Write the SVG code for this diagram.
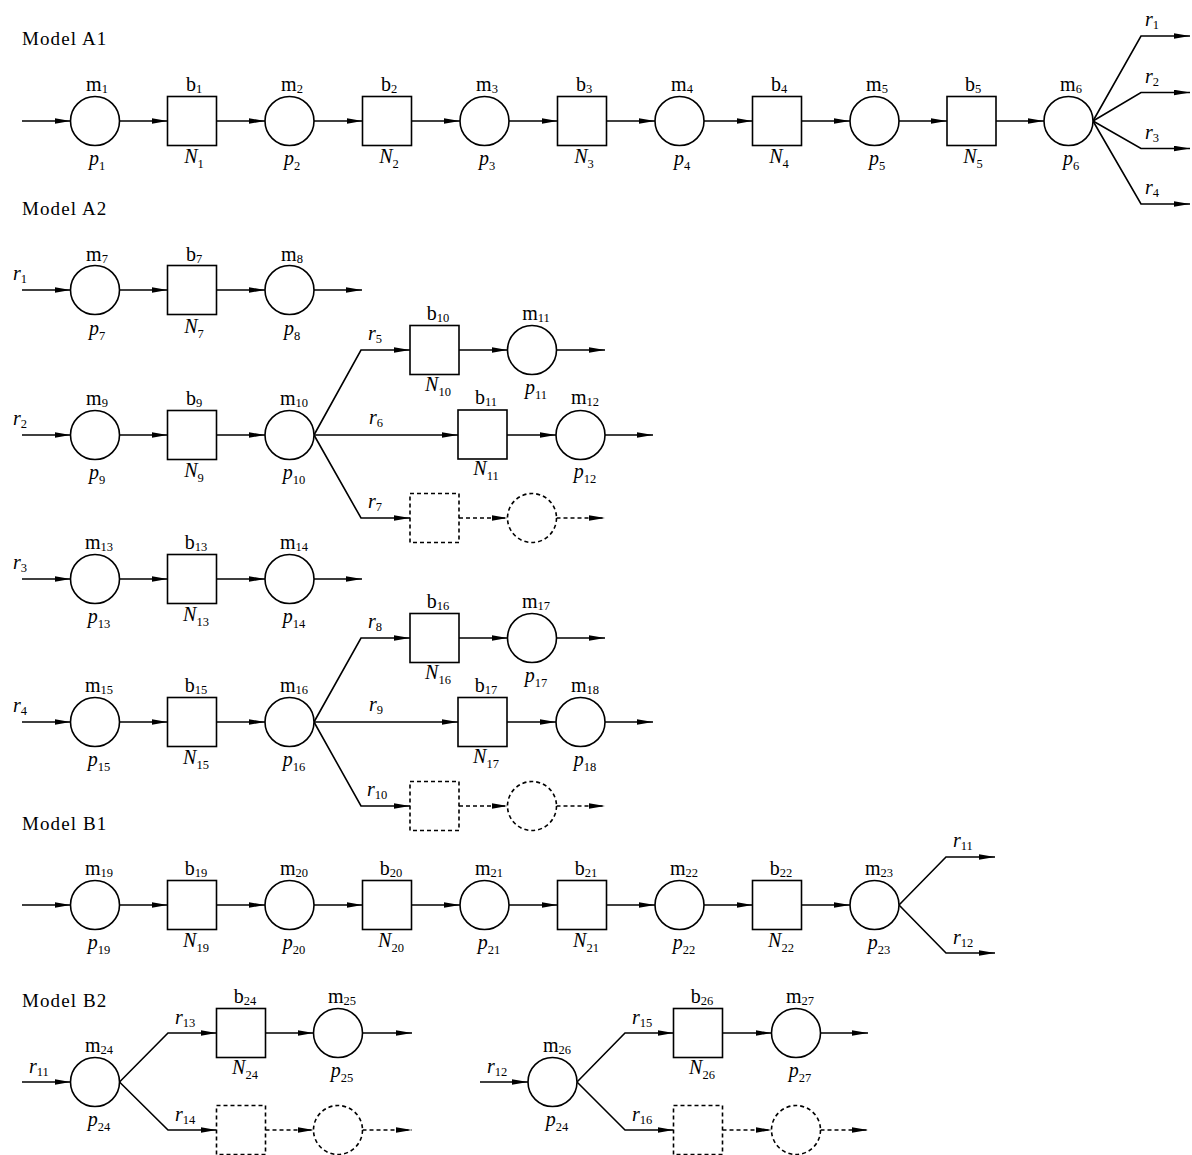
<svg xmlns="http://www.w3.org/2000/svg" width="1192" height="1155" viewBox="0 0 1192 1155">
<style>
.n{fill:#fff;stroke:#000;stroke-width:1.6}
.d{stroke-dasharray:4 3}
.c{fill:none;stroke:#000;stroke-width:1.6}
.t{font-family:"Liberation Serif","Times New Roman",serif;font-size:20px;fill:#000}
.m{text-anchor:middle}
.i{font-style:italic}
.s{font-size:12.5px;font-style:normal}
.h{font-family:"Liberation Serif","Times New Roman",serif;font-size:19px;letter-spacing:1.1px;fill:#000}
</style>
<defs>
<marker id="a" markerUnits="userSpaceOnUse" markerWidth="17" markerHeight="6" refX="16" refY="3" orient="auto">
<path d="M0,0.2 L16,3 L0,5.8 Z" fill="#000" stroke="none"/>
</marker>
</defs>
<rect width="1192" height="1155" fill="#fff"/>

<g id="titles">
<text class="h" x="22" y="45">Model A1</text>
<text class="h" x="22" y="215">Model A2</text>
<text class="h" x="22" y="830">Model B1</text>
<text class="h" x="22" y="1007">Model B2</text>
</g>

<g id="connectors">
<!-- A1 -->
<line class="c" x1="22" y1="121" x2="70.5" y2="121" marker-end="url(#a)"/>
<line class="c" x1="119.5" y1="121" x2="167.5" y2="121" marker-end="url(#a)"/>
<line class="c" x1="216.5" y1="121" x2="265" y2="121" marker-end="url(#a)"/>
<line class="c" x1="314" y1="121" x2="362.5" y2="121" marker-end="url(#a)"/>
<line class="c" x1="411.5" y1="121" x2="460" y2="121" marker-end="url(#a)"/>
<line class="c" x1="509" y1="121" x2="557.5" y2="121" marker-end="url(#a)"/>
<line class="c" x1="606.5" y1="121" x2="655" y2="121" marker-end="url(#a)"/>
<line class="c" x1="704" y1="121" x2="752.5" y2="121" marker-end="url(#a)"/>
<line class="c" x1="801.5" y1="121" x2="850" y2="121" marker-end="url(#a)"/>
<line class="c" x1="899" y1="121" x2="947" y2="121" marker-end="url(#a)"/>
<line class="c" x1="996" y1="121" x2="1044" y2="121" marker-end="url(#a)"/>
<polyline class="c" points="1093,121 1141,36 1190,36" marker-end="url(#a)"/>
<polyline class="c" points="1093,121 1141,92.5 1190,92.5" marker-end="url(#a)"/>
<polyline class="c" points="1093,121 1141,148.5 1190,148.5" marker-end="url(#a)"/>
<polyline class="c" points="1093,121 1141,204 1190,204" marker-end="url(#a)"/>
<!-- A2 row 1 -->
<line class="c" x1="22" y1="290" x2="70.5" y2="290" marker-end="url(#a)"/>
<line class="c" x1="119.5" y1="290" x2="167.5" y2="290" marker-end="url(#a)"/>
<line class="c" x1="216.5" y1="290" x2="265" y2="290" marker-end="url(#a)"/>
<line class="c" x1="314" y1="290" x2="362" y2="290" marker-end="url(#a)"/>
<!-- A2 row 2 -->
<line class="c" x1="22" y1="435" x2="70.5" y2="435" marker-end="url(#a)"/>
<line class="c" x1="119.5" y1="435" x2="167.5" y2="435" marker-end="url(#a)"/>
<line class="c" x1="216.5" y1="435" x2="265" y2="435" marker-end="url(#a)"/>
<polyline class="c" points="314,435 361,350 410,350" marker-end="url(#a)"/>
<line class="c" x1="459" y1="350" x2="507.5" y2="350" marker-end="url(#a)"/>
<line class="c" x1="556.5" y1="350" x2="605" y2="350" marker-end="url(#a)"/>
<line class="c" x1="314" y1="435" x2="458" y2="435" marker-end="url(#a)"/>
<line class="c" x1="507" y1="435" x2="556" y2="435" marker-end="url(#a)"/>
<line class="c" x1="605" y1="435" x2="653" y2="435" marker-end="url(#a)"/>
<polyline class="c" points="314,435 361,518 410,518" marker-end="url(#a)"/>
<line class="c d" x1="459" y1="518" x2="507.5" y2="518" marker-end="url(#a)"/>
<line class="c d" x1="556.5" y1="518" x2="605" y2="518" marker-end="url(#a)"/>
<!-- A2 row 3 -->
<line class="c" x1="22" y1="579" x2="70.5" y2="579" marker-end="url(#a)"/>
<line class="c" x1="119.5" y1="579" x2="167.5" y2="579" marker-end="url(#a)"/>
<line class="c" x1="216.5" y1="579" x2="265" y2="579" marker-end="url(#a)"/>
<line class="c" x1="314" y1="579" x2="362" y2="579" marker-end="url(#a)"/>
<!-- A2 row 4 -->
<line class="c" x1="22" y1="722" x2="70.5" y2="722" marker-end="url(#a)"/>
<line class="c" x1="119.5" y1="722" x2="167.5" y2="722" marker-end="url(#a)"/>
<line class="c" x1="216.5" y1="722" x2="265" y2="722" marker-end="url(#a)"/>
<polyline class="c" points="314,722 361,638 410,638" marker-end="url(#a)"/>
<line class="c" x1="459" y1="638" x2="507.5" y2="638" marker-end="url(#a)"/>
<line class="c" x1="556.5" y1="638" x2="605" y2="638" marker-end="url(#a)"/>
<line class="c" x1="314" y1="722" x2="458" y2="722" marker-end="url(#a)"/>
<line class="c" x1="507" y1="722" x2="556" y2="722" marker-end="url(#a)"/>
<line class="c" x1="605" y1="722" x2="653" y2="722" marker-end="url(#a)"/>
<polyline class="c" points="314,722 361,806 410,806" marker-end="url(#a)"/>
<line class="c d" x1="459" y1="806" x2="507.5" y2="806" marker-end="url(#a)"/>
<line class="c d" x1="556.5" y1="806" x2="605" y2="806" marker-end="url(#a)"/>
<!-- B1 -->
<line class="c" x1="22" y1="905" x2="70.5" y2="905" marker-end="url(#a)"/>
<line class="c" x1="119.5" y1="905" x2="167.5" y2="905" marker-end="url(#a)"/>
<line class="c" x1="216.5" y1="905" x2="265" y2="905" marker-end="url(#a)"/>
<line class="c" x1="314" y1="905" x2="362.5" y2="905" marker-end="url(#a)"/>
<line class="c" x1="411.5" y1="905" x2="460" y2="905" marker-end="url(#a)"/>
<line class="c" x1="509" y1="905" x2="557.5" y2="905" marker-end="url(#a)"/>
<line class="c" x1="606.5" y1="905" x2="655" y2="905" marker-end="url(#a)"/>
<line class="c" x1="704" y1="905" x2="752.5" y2="905" marker-end="url(#a)"/>
<line class="c" x1="801.5" y1="905" x2="850" y2="905" marker-end="url(#a)"/>
<polyline class="c" points="899,905 946,857 995,857" marker-end="url(#a)"/>
<polyline class="c" points="899,905 946,953 995,953" marker-end="url(#a)"/>
<!-- B2 left -->
<line class="c" x1="22" y1="1082" x2="70.5" y2="1082" marker-end="url(#a)"/>
<polyline class="c" points="119.5,1082 168,1033 216.5,1033" marker-end="url(#a)"/>
<line class="c" x1="265.5" y1="1033" x2="313.5" y2="1033" marker-end="url(#a)"/>
<line class="c" x1="362.5" y1="1033" x2="412" y2="1033" marker-end="url(#a)"/>
<polyline class="c" points="119.5,1082 168,1130 216.5,1130" marker-end="url(#a)"/>
<line class="c d" x1="265.5" y1="1130" x2="313.5" y2="1130" marker-end="url(#a)"/>
<line class="c d" x1="362.5" y1="1130" x2="412" y2="1130" marker-end="url(#a)"/>
<!-- B2 right -->
<line class="c" x1="480" y1="1082" x2="528" y2="1082" marker-end="url(#a)"/>
<polyline class="c" points="577,1082 625,1033 673.5,1033" marker-end="url(#a)"/>
<line class="c" x1="722.5" y1="1033" x2="771.5" y2="1033" marker-end="url(#a)"/>
<line class="c" x1="820.5" y1="1033" x2="868" y2="1033" marker-end="url(#a)"/>
<polyline class="c" points="577,1082 625,1130 673.5,1130" marker-end="url(#a)"/>
<line class="c d" x1="722.5" y1="1130" x2="771.5" y2="1130" marker-end="url(#a)"/>
<line class="c d" x1="820.5" y1="1130" x2="868" y2="1130" marker-end="url(#a)"/>
</g>

<g id="connector-labels">
<text class="t i" x="1145" y="26">r<tspan class="s" dy="3">1</tspan></text>
<text class="t i" x="1145" y="82.5">r<tspan class="s" dy="3">2</tspan></text>
<text class="t i" x="1145" y="138.5">r<tspan class="s" dy="3">3</tspan></text>
<text class="t i" x="1145" y="194">r<tspan class="s" dy="3">4</tspan></text>
<text class="t i" x="13" y="280">r<tspan class="s" dy="3">1</tspan></text>
<text class="t i" x="13" y="425">r<tspan class="s" dy="3">2</tspan></text>
<text class="t i" x="13" y="569">r<tspan class="s" dy="3">3</tspan></text>
<text class="t i" x="13" y="712">r<tspan class="s" dy="3">4</tspan></text>
<text class="t i" x="368" y="340">r<tspan class="s" dy="3">5</tspan></text>
<text class="t i" x="369" y="424">r<tspan class="s" dy="3">6</tspan></text>
<text class="t i" x="368" y="508">r<tspan class="s" dy="3">7</tspan></text>
<text class="t i" x="368" y="628">r<tspan class="s" dy="3">8</tspan></text>
<text class="t i" x="369" y="711">r<tspan class="s" dy="3">9</tspan></text>
<text class="t i" x="367" y="796">r<tspan class="s" dy="3">10</tspan></text>
<text class="t i" x="953" y="847">r<tspan class="s" dy="3">11</tspan></text>
<text class="t i" x="953" y="944">r<tspan class="s" dy="3">12</tspan></text>
<text class="t i" x="29" y="1073">r<tspan class="s" dy="3">11</tspan></text>
<text class="t i" x="175" y="1024">r<tspan class="s" dy="3">13</tspan></text>
<text class="t i" x="175" y="1121">r<tspan class="s" dy="3">14</tspan></text>
<text class="t i" x="487" y="1073">r<tspan class="s" dy="3">12</tspan></text>
<text class="t i" x="632" y="1024">r<tspan class="s" dy="3">15</tspan></text>
<text class="t i" x="632" y="1121">r<tspan class="s" dy="3">16</tspan></text>
</g>

<!-- Model A1 nodes -->
<g id="m1"><circle class="n" cx="95" cy="121" r="24.5"/><text class="t m" x="97" y="91">m<tspan class="s" dy="2">1</tspan></text><text class="t m i" x="97" y="165">p<tspan class="s" dy="5">1</tspan></text></g>
<g id="b1"><rect class="n" x="167.5" y="96.5" width="49" height="49"/><text class="t m" x="194" y="91">b<tspan class="s" dy="2">1</tspan></text><text class="t m i" x="194" y="163">N<tspan class="s" dy="5">1</tspan></text></g>
<g id="m2"><circle class="n" cx="289.5" cy="121" r="24.5"/><text class="t m" x="292" y="91">m<tspan class="s" dy="2">2</tspan></text><text class="t m i" x="292" y="165">p<tspan class="s" dy="5">2</tspan></text></g>
<g id="b2"><rect class="n" x="362.5" y="96.5" width="49" height="49"/><text class="t m" x="389" y="91">b<tspan class="s" dy="2">2</tspan></text><text class="t m i" x="389" y="163">N<tspan class="s" dy="5">2</tspan></text></g>
<g id="m3"><circle class="n" cx="484.5" cy="121" r="24.5"/><text class="t m" x="487" y="91">m<tspan class="s" dy="2">3</tspan></text><text class="t m i" x="487" y="165">p<tspan class="s" dy="5">3</tspan></text></g>
<g id="b3"><rect class="n" x="557.5" y="96.5" width="49" height="49"/><text class="t m" x="584" y="91">b<tspan class="s" dy="2">3</tspan></text><text class="t m i" x="584" y="163">N<tspan class="s" dy="5">3</tspan></text></g>
<g id="m4"><circle class="n" cx="679.5" cy="121" r="24.5"/><text class="t m" x="682" y="91">m<tspan class="s" dy="2">4</tspan></text><text class="t m i" x="682" y="165">p<tspan class="s" dy="5">4</tspan></text></g>
<g id="b4"><rect class="n" x="752.5" y="96.5" width="49" height="49"/><text class="t m" x="779" y="91">b<tspan class="s" dy="2">4</tspan></text><text class="t m i" x="779" y="163">N<tspan class="s" dy="5">4</tspan></text></g>
<g id="m5"><circle class="n" cx="874.5" cy="121" r="24.5"/><text class="t m" x="877" y="91">m<tspan class="s" dy="2">5</tspan></text><text class="t m i" x="877" y="165">p<tspan class="s" dy="5">5</tspan></text></g>
<g id="b5"><rect class="n" x="947" y="96.5" width="49" height="49"/><text class="t m" x="973" y="91">b<tspan class="s" dy="2">5</tspan></text><text class="t m i" x="973" y="163">N<tspan class="s" dy="5">5</tspan></text></g>
<g id="m6"><circle class="n" cx="1068.5" cy="121" r="24.5"/><text class="t m" x="1071" y="91">m<tspan class="s" dy="2">6</tspan></text><text class="t m i" x="1071" y="165">p<tspan class="s" dy="5">6</tspan></text></g>

<!-- Model A2 row 1 -->
<g id="m7"><circle class="n" cx="95" cy="290" r="24.5"/><text class="t m" x="97" y="261">m<tspan class="s" dy="2">7</tspan></text><text class="t m i" x="97" y="335">p<tspan class="s" dy="5">7</tspan></text></g>
<g id="b7"><rect class="n" x="167.5" y="265.5" width="49" height="49"/><text class="t m" x="194" y="261">b<tspan class="s" dy="2">7</tspan></text><text class="t m i" x="194" y="333">N<tspan class="s" dy="5">7</tspan></text></g>
<g id="m8"><circle class="n" cx="289.5" cy="290" r="24.5"/><text class="t m" x="292" y="261">m<tspan class="s" dy="2">8</tspan></text><text class="t m i" x="292" y="335">p<tspan class="s" dy="5">8</tspan></text></g>

<!-- Model A2 row 2 -->
<g id="m9"><circle class="n" cx="95" cy="435" r="24.5"/><text class="t m" x="97" y="405">m<tspan class="s" dy="2">9</tspan></text><text class="t m i" x="97" y="479">p<tspan class="s" dy="5">9</tspan></text></g>
<g id="b9"><rect class="n" x="167.5" y="410.5" width="49" height="49"/><text class="t m" x="194" y="405">b<tspan class="s" dy="2">9</tspan></text><text class="t m i" x="194" y="477">N<tspan class="s" dy="5">9</tspan></text></g>
<g id="m10"><circle class="n" cx="289.5" cy="435" r="24.5"/><text class="t m" x="294" y="405">m<tspan class="s" dy="2">10</tspan></text><text class="t m i" x="294" y="479">p<tspan class="s" dy="5">10</tspan></text></g>
<g id="b10"><rect class="n" x="410" y="325.5" width="49" height="49"/><text class="t m" x="438" y="320">b<tspan class="s" dy="2">10</tspan></text><text class="t m i" x="438" y="391">N<tspan class="s" dy="5">10</tspan></text></g>
<g id="m11"><circle class="n" cx="532" cy="350" r="24.5"/><text class="t m" x="536" y="320">m<tspan class="s" dy="2">11</tspan></text><text class="t m i" x="536" y="394">p<tspan class="s" dy="5">11</tspan></text></g>
<g id="b11"><rect class="n" x="458" y="410" width="49" height="49"/><text class="t m" x="486" y="404">b<tspan class="s" dy="2">11</tspan></text><text class="t m i" x="486" y="475">N<tspan class="s" dy="5">11</tspan></text></g>
<g id="m12"><circle class="n" cx="580.5" cy="435" r="24.5"/><text class="t m" x="585" y="404">m<tspan class="s" dy="2">12</tspan></text><text class="t m i" x="585" y="478">p<tspan class="s" dy="5">12</tspan></text></g>
<g id="b-dash1"><rect class="n d" x="410" y="493.5" width="49" height="49"/></g>
<g id="m-dash1"><circle class="n d" cx="532" cy="518" r="24.5"/></g>

<!-- Model A2 row 3 -->
<g id="m13"><circle class="n" cx="95" cy="579" r="24.5"/><text class="t m" x="99" y="549">m<tspan class="s" dy="2">13</tspan></text><text class="t m i" x="99" y="623">p<tspan class="s" dy="5">13</tspan></text></g>
<g id="b13"><rect class="n" x="167.5" y="554.5" width="49" height="49"/><text class="t m" x="196" y="549">b<tspan class="s" dy="2">13</tspan></text><text class="t m i" x="196" y="621">N<tspan class="s" dy="5">13</tspan></text></g>
<g id="m14"><circle class="n" cx="289.5" cy="579" r="24.5"/><text class="t m" x="294" y="549">m<tspan class="s" dy="2">14</tspan></text><text class="t m i" x="294" y="623">p<tspan class="s" dy="5">14</tspan></text></g>

<!-- Model A2 row 4 -->
<g id="m15"><circle class="n" cx="95" cy="722" r="24.5"/><text class="t m" x="99" y="692">m<tspan class="s" dy="2">15</tspan></text><text class="t m i" x="99" y="766">p<tspan class="s" dy="5">15</tspan></text></g>
<g id="b15"><rect class="n" x="167.5" y="697.5" width="49" height="49"/><text class="t m" x="196" y="692">b<tspan class="s" dy="2">15</tspan></text><text class="t m i" x="196" y="764">N<tspan class="s" dy="5">15</tspan></text></g>
<g id="m16"><circle class="n" cx="289.5" cy="722" r="24.5"/><text class="t m" x="294" y="692">m<tspan class="s" dy="2">16</tspan></text><text class="t m i" x="294" y="766">p<tspan class="s" dy="5">16</tspan></text></g>
<g id="b16"><rect class="n" x="410" y="613.5" width="49" height="49"/><text class="t m" x="438" y="608">b<tspan class="s" dy="2">16</tspan></text><text class="t m i" x="438" y="679">N<tspan class="s" dy="5">16</tspan></text></g>
<g id="m17"><circle class="n" cx="532" cy="638" r="24.5"/><text class="t m" x="536" y="608">m<tspan class="s" dy="2">17</tspan></text><text class="t m i" x="536" y="682">p<tspan class="s" dy="5">17</tspan></text></g>
<g id="b17"><rect class="n" x="458" y="697.5" width="49" height="49"/><text class="t m" x="486" y="692">b<tspan class="s" dy="2">17</tspan></text><text class="t m i" x="486" y="763">N<tspan class="s" dy="5">17</tspan></text></g>
<g id="m18"><circle class="n" cx="580.5" cy="722" r="24.5"/><text class="t m" x="585" y="692">m<tspan class="s" dy="2">18</tspan></text><text class="t m i" x="585" y="766">p<tspan class="s" dy="5">18</tspan></text></g>
<g id="b-dash2"><rect class="n d" x="410" y="781.5" width="49" height="49"/></g>
<g id="m-dash2"><circle class="n d" cx="532" cy="806" r="24.5"/></g>

<!-- Model B1 -->
<g id="m19"><circle class="n" cx="95" cy="905" r="24.5"/><text class="t m" x="99" y="875">m<tspan class="s" dy="2">19</tspan></text><text class="t m i" x="99" y="949">p<tspan class="s" dy="5">19</tspan></text></g>
<g id="b19"><rect class="n" x="167.5" y="880.5" width="49" height="49"/><text class="t m" x="196" y="875">b<tspan class="s" dy="2">19</tspan></text><text class="t m i" x="196" y="947">N<tspan class="s" dy="5">19</tspan></text></g>
<g id="m20"><circle class="n" cx="289.5" cy="905" r="24.5"/><text class="t m" x="294" y="875">m<tspan class="s" dy="2">20</tspan></text><text class="t m i" x="294" y="949">p<tspan class="s" dy="5">20</tspan></text></g>
<g id="b20"><rect class="n" x="362.5" y="880.5" width="49" height="49"/><text class="t m" x="391" y="875">b<tspan class="s" dy="2">20</tspan></text><text class="t m i" x="391" y="947">N<tspan class="s" dy="5">20</tspan></text></g>
<g id="m21"><circle class="n" cx="484.5" cy="905" r="24.5"/><text class="t m" x="489" y="875">m<tspan class="s" dy="2">21</tspan></text><text class="t m i" x="489" y="949">p<tspan class="s" dy="5">21</tspan></text></g>
<g id="b21"><rect class="n" x="557.5" y="880.5" width="49" height="49"/><text class="t m" x="586" y="875">b<tspan class="s" dy="2">21</tspan></text><text class="t m i" x="586" y="947">N<tspan class="s" dy="5">21</tspan></text></g>
<g id="m22"><circle class="n" cx="679.5" cy="905" r="24.5"/><text class="t m" x="684" y="875">m<tspan class="s" dy="2">22</tspan></text><text class="t m i" x="684" y="949">p<tspan class="s" dy="5">22</tspan></text></g>
<g id="b22"><rect class="n" x="752.5" y="880.5" width="49" height="49"/><text class="t m" x="781" y="875">b<tspan class="s" dy="2">22</tspan></text><text class="t m i" x="781" y="947">N<tspan class="s" dy="5">22</tspan></text></g>
<g id="m23"><circle class="n" cx="874.5" cy="905" r="24.5"/><text class="t m" x="879" y="875">m<tspan class="s" dy="2">23</tspan></text><text class="t m i" x="879" y="949">p<tspan class="s" dy="5">23</tspan></text></g>

<!-- Model B2 left -->
<g id="m24"><circle class="n" cx="95" cy="1082" r="24.5"/><text class="t m" x="99" y="1052">m<tspan class="s" dy="2">24</tspan></text><text class="t m i" x="99" y="1126">p<tspan class="s" dy="5">24</tspan></text></g>
<g id="b24"><rect class="n" x="216.5" y="1008.5" width="49" height="49"/><text class="t m" x="245" y="1003">b<tspan class="s" dy="2">24</tspan></text><text class="t m i" x="245" y="1074">N<tspan class="s" dy="5">24</tspan></text></g>
<g id="m25"><circle class="n" cx="338" cy="1033" r="24.5"/><text class="t m" x="342" y="1003">m<tspan class="s" dy="2">25</tspan></text><text class="t m i" x="342" y="1077">p<tspan class="s" dy="5">25</tspan></text></g>
<g id="b-dash3"><rect class="n d" x="216.5" y="1105.5" width="49" height="49"/></g>
<g id="m-dash3"><circle class="n d" cx="338" cy="1130" r="24.5"/></g>

<!-- Model B2 right -->
<g id="m26"><circle class="n" cx="552.5" cy="1082" r="24.5"/><text class="t m" x="557" y="1052">m<tspan class="s" dy="2">26</tspan></text><text class="t m i" x="557" y="1126">p<tspan class="s" dy="5">24</tspan></text></g>
<g id="b26"><rect class="n" x="673.5" y="1008.5" width="49" height="49"/><text class="t m" x="702" y="1003">b<tspan class="s" dy="2">26</tspan></text><text class="t m i" x="702" y="1074">N<tspan class="s" dy="5">26</tspan></text></g>
<g id="m27"><circle class="n" cx="796" cy="1033" r="24.5"/><text class="t m" x="800" y="1003">m<tspan class="s" dy="2">27</tspan></text><text class="t m i" x="800" y="1077">p<tspan class="s" dy="5">27</tspan></text></g>
<g id="b-dash4"><rect class="n d" x="673.5" y="1105.5" width="49" height="49"/></g>
<g id="m-dash4"><circle class="n d" cx="796" cy="1130" r="24.5"/></g>
</svg>
